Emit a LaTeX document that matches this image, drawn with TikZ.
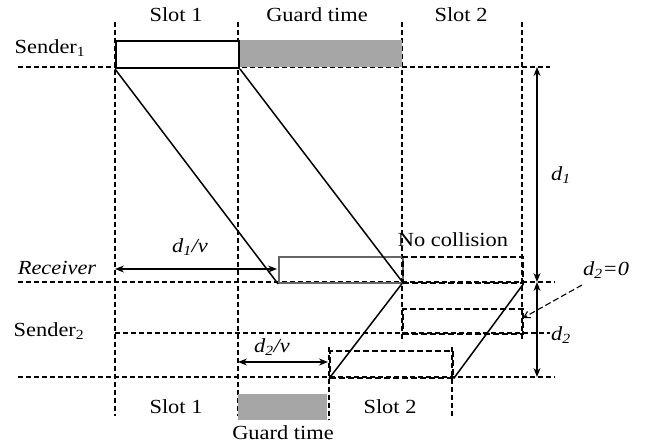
\documentclass[tikz,border=0pt]{standalone}
\usepackage{fontspec}
\setmainfont{Liberation Serif}[UprightFont=*, ItalicFont=* Italic, BoldFont=* Bold, FakeStretch=1.12]
\usetikzlibrary{arrows.meta}
\newcommand{\dvar}[1]{\textit{d}\textsubscript{\textit{#1}}}
\begin{document}
\begin{tikzpicture}[x=1pt,y=-1pt,
  grid/.style={dash pattern=on 5pt off 3pt, line width=1.4pt},
  dbox/.style={dash pattern=on 6pt off 3pt, line width=1.6pt},
  sig/.style={line width=1.5pt},
  lbl/.style={font=\fontsize{20}{22}\selectfont, inner sep=0pt},
  dim/.style={line width=1.3pt, {Stealth[length=9pt,width=7pt]}-{Stealth[length=9pt,width=7pt]}},
  guard/.style={fill=black!35, draw=none}]
\useasboundingbox (0,0) rectangle (646,445);
% horizontal time lines
\coordinate (h1l) at (18,67);  \coordinate (h1r) at (550,67);
\coordinate (h2l) at (18,282); \coordinate (h2r) at (555,282);
\coordinate (h3l) at (115,333); \coordinate (h3r) at (550,333);
\coordinate (h4l) at (18,377); \coordinate (h4r) at (555,377);
\draw[grid] (h1l) -- (h1r);
\draw[grid] (h2l) -- (h2r);
\draw[grid] (h3l) -- (h3r);
\draw[grid] (h4l) -- (h4r);
% vertical slot lines
\coordinate (v1t) at (115,22); \coordinate (v1b) at (115,416);
\coordinate (v2t) at (238,22); \coordinate (v2b) at (238,416);
\coordinate (v3t) at (402,22); \coordinate (v3b) at (402,342);
\coordinate (v4t) at (522,22); \coordinate (v4b) at (522,340);
\coordinate (v5t) at (329,347); \coordinate (v5b) at (329,420);
\coordinate (v6t) at (452,347); \coordinate (v6b) at (452,416);
\draw[grid] (v1t) -- (v1b);
\draw[grid] (v2t) -- (v2b);
\draw[grid] (v3t) -- (v3b);
\draw[grid] (v4t) -- (v4b);
\draw[grid] (v5t) -- (v5b);
\draw[grid] (v6t) -- (v6b);
% sender 1 packet and guard time
\node[guard, minimum width=164pt, minimum height=27pt, anchor=north west] (g1) at (238,40) {};
\node[draw, line width=2pt, fill=white, minimum width=123pt, minimum height=27pt, anchor=north west] (p1) at (115,40) {};
% receiver packet
\node[draw=black!60, line width=1.8pt, minimum width=124pt, minimum height=26pt, anchor=north west] (rp) at (278,256) {};
\node[draw, dbox, minimum width=120pt, minimum height=26pt, anchor=north west] (rd) at (402,256) {};
% sender 2 packets
\node[draw, dbox, minimum width=120pt, minimum height=25pt, anchor=north west] (s2a) at (402,308) {};
\node[draw, dbox, minimum width=123pt, minimum height=27pt, anchor=north west] (s2b) at (329,350) {};
% propagation lines
\draw[sig] (p1.south west) -- (rp.south west);
\draw[sig] (p1.south east) -- (rp.south east);
\draw[sig] (rd.south west) -- (s2b.south west);
\draw[sig] (rd.south east) -- (s2b.south east);
% bottom guard time
\node[guard, minimum width=89pt, minimum height=26pt, anchor=north west] (g2) at (238,394) {};
% labels
\node[lbl] (ts1) at (176,15) {Slot 1};
\node[lbl] (tg) at (317,15) {Guard time};
\node[lbl] (ts2) at (461,15) {Slot 2};
\node[lbl] (bs1) at (176,407) {Slot 1};
\node[lbl] (bs2) at (390,407) {Slot 2};
\node[lbl] (bg) at (283,433) {Guard time};
\node[lbl] (snd1) at (50,48) {Sender\textsubscript{1}};
\node[lbl] (snd2) at (49,331) {Sender\textsubscript{2}};
\node[lbl] (rcv) at (57,268) {\itshape Receiver};
\node[lbl] (nc) at (453,240) {No collision};
% distance arrows
\coordinate (d1t) at (537,67); \coordinate (d1b) at (537,282);
\coordinate (d2t) at (537,282); \coordinate (d2b) at (537,377);
\draw[dim] (d1t) -- (d1b);
\draw[dim] (d2t) -- (d2b);
\node[lbl] (d1l) at (561,175) {\dvar{1}};
\node[lbl] (d2l) at (561,335) {\dvar{2}};
\node[lbl] (d20) at (606,270) {\dvar{2}\textit{=0}};
\coordinate (d20a) at (523,318);
\draw[line width=1.1pt, dash pattern=on 6pt off 3pt, -{Straight Barb[length=6pt,width=7pt]}] (582,285) -- (d20a);
% d/v arrows
\coordinate (a1l) at (115,269); \coordinate (a1r) at (277,269);
\draw[dim] (a1l) -- (a1r);
\node[lbl] (a1) at (190,247) {\dvar{1}\textit{/v}};
\coordinate (a2l) at (238,362); \coordinate (a2r) at (328,362);
\draw[dim] (a2l) -- (a2r);
\node[lbl] (a2) at (272,347) {\dvar{2}\textit{/v}};
\end{tikzpicture}
\end{document}
